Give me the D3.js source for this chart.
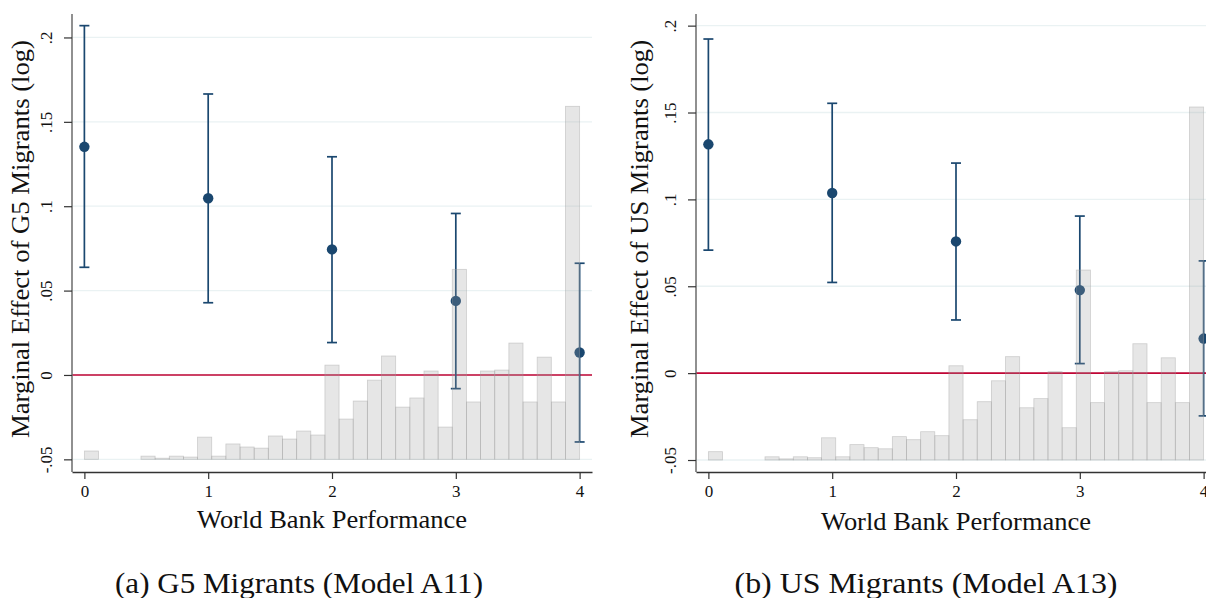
<!DOCTYPE html>
<html>
<head>
    <meta charset="utf-8">
    <style type="text/css">
        body { margin: 0; background: #fff; }
        #chart { display: block; }
        text { font-family: "Liberation Serif", "DejaVu Serif", serif; fill: #111; }
        .grid line { stroke: #eaf2f3; stroke-width: 1.3px; }
        .bar { fill: #a0a0a0; fill-opacity: .26; stroke: #a0a0a0; stroke-opacity: .45; stroke-width: .8px; }
        .ci { stroke: #1a476f; stroke-width: 1.7px; fill: none; }
        .dot { fill: #1a476f; }
        .zero { stroke: #c10534; stroke-width: 1.6px; }
    </style>
    <script src="https://cdnjs.cloudflare.com/ajax/libs/d3/7.8.5/d3.min.js"></script>
</head>
<body>
    <svg id="chart" width="1206" height="598"></svg>
<script type="text/javascript">
// values
const performance = [0, 1, 2, 3, 4];

const g5Estimate = [0.1352, 0.1047, 0.0744, 0.0439, 0.0133];
const g5Lower    = [0.0638, 0.0428, 0.0192, -0.0081, -0.0397];
const g5Upper    = [0.2070, 0.1665, 0.1293, 0.0957, 0.0662];

const usEstimate = [0.1317, 0.1037, 0.0758, 0.0478, 0.0199];
const usLower    = [0.0708, 0.0522, 0.0306, 0.0055, -0.0246];
const usUpper    = [0.1923, 0.1553, 0.1209, 0.0904, 0.0646];

// histogram of World Bank Performance (percent per bin, 35 bins over 0-4)
const histBins = 35;
const histPercent = [0.44, 0, 0, 0, 0.17, 0.06, 0.17, 0.12, 1.17, 0.17,
                     0.81, 0.65, 0.59, 1.23, 1.07, 1.49, 1.28, 4.96, 2.12, 3.07,
                     4.17, 5.44, 2.75, 3.23, 4.65, 1.70, 10.0, 3.02, 4.65, 4.70,
                     6.12, 3.02, 5.38, 3.02, 18.58];

const yTicks = [-0.05, 0, 0.05, 0.1, 0.15, 0.2];
const yTickLabels = ['-.05', '0', '.05', '.1', '.15', '.2'];
const xTickLabels = ['0', '1', '2', '3', '4'];

const svg = d3.select('#chart');

function drawPanel(p) {
    var g = svg.append('g');

    var x = d3.scaleLinear().domain([-0.1, 4.1]).range([p.left, p.left + 520]);
    var y = d3.scaleLinear().domain(p.yDomain).range([472, 14]);
    var histY = d3.scaleLinear().domain([0, 20]).range([y(-0.05), y(-0.05) - 380]);

    // gridlines
    g.append('g').attr('class', 'grid')
        .selectAll('line')
        .data(yTicks)
        .enter()
        .append('line')
        .attr('x1', x.range()[0]).attr('x2', x.range()[1])
        .attr('y1', d => y(d)).attr('y2', d => y(d));

    // reference line at zero
    g.append('line').attr('class', 'zero')
        .attr('x1', x.range()[0]).attr('x2', x.range()[1])
        .attr('y1', y(0)).attr('y2', y(0));

    var rows = performance.map((v, i) => ({x: v, est: p.est[i], lo: p.lo[i], hi: p.hi[i]}));

    // confidence intervals
    var ci = g.append('g').selectAll('g').data(rows).enter().append('g');
    ci.append('line').attr('class', 'ci')
        .attr('x1', d => x(d.x)).attr('x2', d => x(d.x))
        .attr('y1', d => y(d.lo)).attr('y2', d => y(d.hi));
    ci.append('line').attr('class', 'ci')
        .attr('x1', d => x(d.x) - 5).attr('x2', d => x(d.x) + 5)
        .attr('y1', d => y(d.hi)).attr('y2', d => y(d.hi));
    ci.append('line').attr('class', 'ci')
        .attr('x1', d => x(d.x) - 5).attr('x2', d => x(d.x) + 5)
        .attr('y1', d => y(d.lo)).attr('y2', d => y(d.lo));
    ci.append('circle').attr('class', 'dot')
        .attr('cx', d => x(d.x)).attr('cy', d => y(d.est)).attr('r', 5.2);

    // histogram drawn on top, semi transparent
    var binW = 4 / histBins;
    g.append('g').selectAll('rect')
        .data(histPercent.map((v, i) => ({i: i, v: v})).filter(d => d.v > 0))
        .enter()
        .append('rect')
        .attr('class', 'bar')
        .attr('x', d => x(d.i * binW))
        .attr('width', d => x((d.i + 1) * binW) - x(d.i * binW))
        .attr('y', d => histY(d.v))
        .attr('height', d => histY(0) - histY(d.v));

    // y axis
    var yAxis = g.append('g')
        .attr('transform', 'translate(' + x.range()[0] + ',0)')
        .call(d3.axisLeft(y).tickValues(yTicks).tickFormat((d, i) => yTickLabels[i]).tickSize(8).tickSizeOuter(0));
    yAxis.select('.domain').attr('stroke', '#6b6b6b').attr('stroke-width', 1.5).attr('d', 'M0,14V472');
    yAxis.selectAll('.tick line').attr('stroke', '#333').attr('stroke-width', 1.2);
    yAxis.selectAll('.tick text')
        .attr('x', null).attr('dy', null)
        .attr('transform', 'translate(-20,0) rotate(-90)')
        .attr('text-anchor', 'middle')
        .style('font-size', '17px')
        .style('font-family', '"Liberation Serif", serif')
        .attr('fill', '#111');

    // x axis
    var xAxis = g.append('g')
        .attr('transform', 'translate(0,472)')
        .call(d3.axisBottom(x).tickValues(performance).tickFormat((d, i) => xTickLabels[i]).tickSize(7).tickSizeOuter(0));
    xAxis.select('.domain').attr('stroke', '#333').attr('stroke-width', 1.4);
    xAxis.selectAll('.tick line').attr('stroke', '#333').attr('stroke-width', 1.2);
    xAxis.selectAll('.tick text')
        .attr('y', 25).attr('dy', null)
        .style('font-size', '17px')
        .style('font-family', '"Liberation Serif", serif')
        .attr('fill', '#111');

    // axis titles
    g.append('text')
        .attr('transform', 'translate(' + (x.range()[0] - p.yTitleOffset) + ',' + 239 + ') rotate(-90)')
        .attr('text-anchor', 'middle')
        .attr('textLength', 398)
        .attr('lengthAdjust', 'spacingAndGlyphs')
        .style('font-size', '25px')
        .text(p.yTitle);

    g.append('text')
        .attr('x', (x.range()[0] + x.range()[1]) / 2)
        .attr('y', p.xTitleY)
        .attr('text-anchor', 'middle')
        .attr('textLength', 270)
        .attr('lengthAdjust', 'spacingAndGlyphs')
        .style('font-size', '25px')
        .text('World Bank Performance');

    // sub-caption
    svg.append('text')
        .attr('x', p.captionX)
        .attr('y', 593)
        .attr('text-anchor', 'middle')
        .attr('textLength', p.captionLength)
        .attr('lengthAdjust', 'spacingAndGlyphs')
        .style('font-size', '30px')
        .text(p.caption);
}

drawPanel({
    left: 72, yDomain: [-0.0575, 0.2139],
    est: g5Estimate, lo: g5Lower, hi: g5Upper,
    yTitle: 'Marginal Effect of G5 Migrants (log)', yTitleOffset: 43, xTitleY: 528,
    caption: '(a) G5 Migrants (Model A11)', captionX: 299, captionLength: 368
});

drawPanel({
    left: 696, yDomain: [-0.0569, 0.2067],
    est: usEstimate, lo: usLower, hi: usUpper,
    yTitle: 'Marginal Effect of US Migrants (log)', yTitleOffset: 48, xTitleY: 530,
    caption: '(b) US Migrants (Model A13)', captionX: 926, captionLength: 383
});
</script>
</body>
</html>
